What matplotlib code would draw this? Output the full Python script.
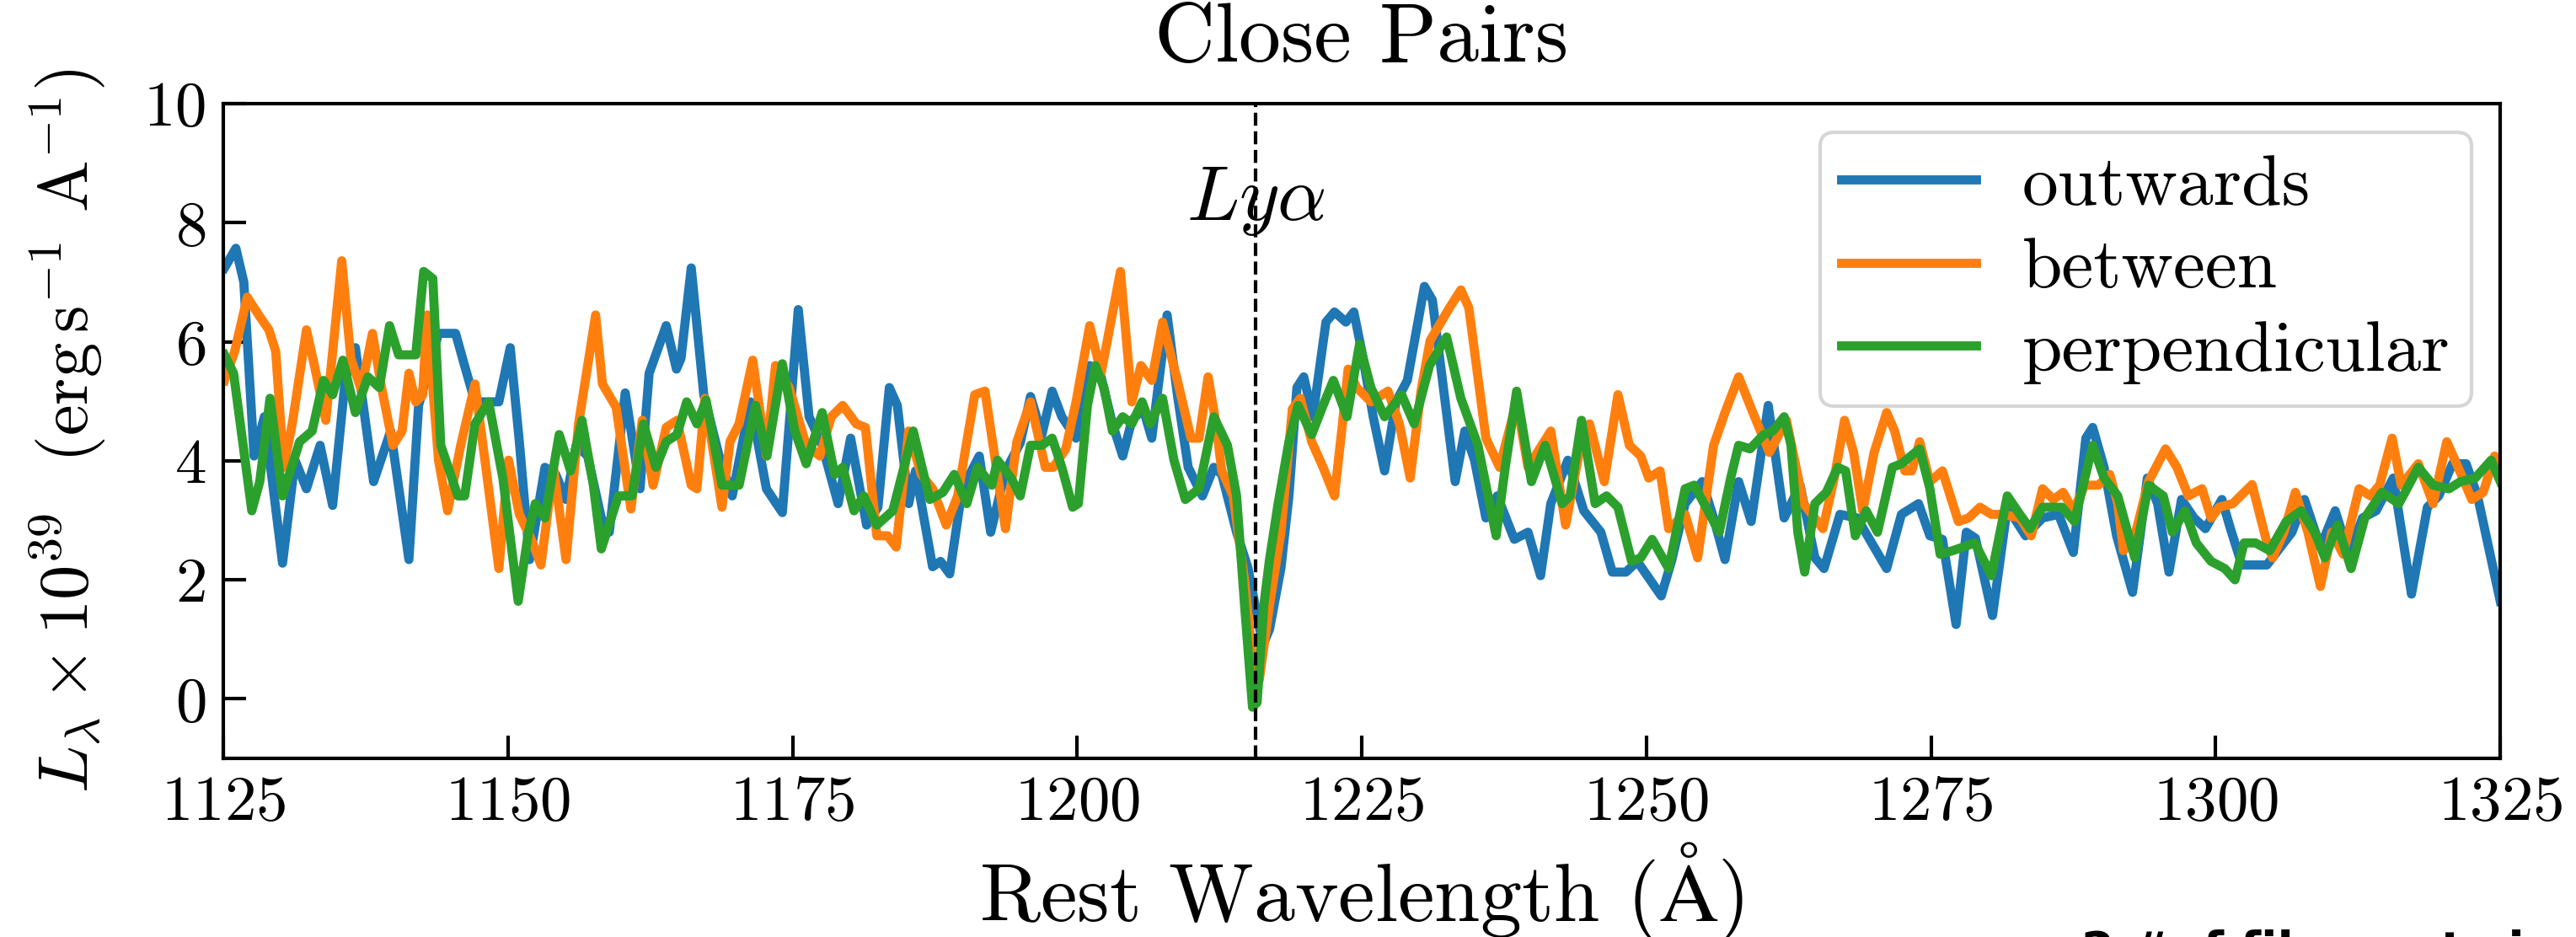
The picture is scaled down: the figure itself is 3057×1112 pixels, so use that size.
import matplotlib
matplotlib.use("Agg")
import matplotlib.pyplot as plt

plt.rcParams['font.family'] = ['cmr10', 'DejaVu Serif']
plt.rcParams['mathtext.fontset'] = 'cm'
plt.rcParams['axes.formatter.use_mathtext'] = True
plt.rcParams['axes.unicode_minus'] = True

# ---------------- data (rest wavelength in Angstrom, L_lambda x 1e39) ----------------
wave_out = [1125.1, 1126.1, 1126.8, 1127.7, 1128.6, 1130.2, 1131.3, 1132.3, 1133.5, 1134.6,
            1135.7, 1136.6, 1138.2, 1139.7, 1141.3, 1142.15, 1143.9, 1145.4, 1146.1, 1147.1,
            1149.2, 1150.2, 1151.0, 1151.9, 1153.25, 1154.2, 1155.1, 1156.0, 1157.0, 1158.2,
            1158.9, 1160.3, 1161.6, 1162.4, 1163.9, 1164.8, 1165.2, 1166.1, 1167.2, 1168.55,
            1169.7, 1171.3, 1172.7, 1174.1, 1175.5, 1176.45, 1177.6, 1179.0, 1180.1, 1181.5,
            1182.5, 1183.5, 1184.2, 1185.2, 1185.8, 1187.3, 1188.0, 1188.8, 1189.9, 1191.4,
            1192.4, 1193.7, 1195.0, 1195.9, 1196.9, 1197.8, 1198.65, 1199.9, 1201.1, 1202.1,
            1203.1, 1204.0, 1204.8, 1205.8, 1206.55, 1207.9, 1208.8, 1209.75, 1211.0, 1212.0,
            1212.7, 1214.0, 1215.0, 1215.6, 1216.3, 1216.9, 1217.9, 1218.6, 1219.3, 1219.9,
            1220.7, 1221.85, 1222.6, 1223.6, 1224.3, 1225.0, 1226.0, 1227.0, 1228.0, 1229.0,
            1230.5, 1231.2, 1233.2, 1234.05, 1234.9, 1235.9, 1236.9, 1238.4, 1239.6, 1240.7,
            1241.6, 1243.1, 1244.5, 1246.0, 1247.0, 1248.2, 1249.2, 1251.3, 1252.2, 1253.4,
            1254.9, 1255.9, 1256.9, 1258.1, 1259.2, 1260.7, 1262.1, 1263.5, 1264.8, 1265.6,
            1267.0, 1268.5, 1270.0, 1271.1, 1272.4, 1273.9, 1274.9, 1276.0, 1277.2, 1278.1,
            1278.9, 1280.4, 1281.7, 1283.3, 1284.8, 1286.2, 1287.5, 1288.6, 1289.2, 1290.2,
            1291.3, 1292.7, 1293.4, 1294.0, 1294.9, 1295.9, 1297.0, 1298.1, 1299.1, 1300.55,
            1301.3, 1302.3, 1303.8, 1304.5, 1305.7, 1306.7, 1307.8, 1309.2, 1310.5, 1311.7,
            1312.9, 1314.1, 1315.6, 1317.2, 1318.6, 1319.6, 1320.8, 1322.0, 1323.0, 1325.0]
flux_out = [7.24, 7.57, 7.0, 4.08, 4.74, 2.28, 4.01, 3.53, 4.26, 3.25,
            5.35, 5.9, 3.65, 4.5, 2.34, 4.93, 6.14, 6.14, 5.66, 4.99,
            4.99, 5.9, 4.32, 2.34, 3.89, 3.77, 3.35, 4.26, 4.08, 3.04,
            2.8, 5.14, 3.53, 5.47, 6.27, 5.54, 5.72, 7.24, 5.11, 4.08,
            3.41, 4.99, 3.53, 3.13, 6.54, 4.74, 4.26, 3.28, 4.38, 2.92,
            3.22, 5.23, 4.93, 3.28, 3.83, 2.22, 2.31, 2.1, 3.53, 4.08,
            2.8, 3.83, 4.3, 5.08, 4.44, 5.17, 4.74, 4.38, 5.6, 5.41,
            4.62, 4.08, 4.68, 4.87, 4.38, 6.45, 5.11, 3.89, 3.41, 3.89,
            3.77, 2.8, 2.2, 1.6, 0.9, 1.17, 2.2, 3.41, 5.23, 5.41,
            4.74, 6.33, 6.5, 6.33, 6.5, 5.84, 4.74, 3.83, 4.99, 5.35,
            6.93, 6.7, 3.65, 4.5, 4.01, 3.04, 3.41, 2.68, 2.8, 2.07,
            3.28, 4.01, 3.16, 2.8, 2.13, 2.13, 2.31, 1.73, 2.31, 3.28,
            3.65, 3.04, 2.34, 3.65, 2.98, 4.93, 3.04, 3.59, 2.37, 2.19,
            3.1, 3.04, 2.55, 2.19, 3.1, 3.28, 2.74, 2.68, 1.25, 2.8,
            2.7, 1.4, 3.22, 2.74, 3.04, 3.1, 2.46, 4.38, 4.56, 3.89,
            2.74, 1.79, 2.8, 3.71, 3.28, 2.13, 3.35, 3.04, 2.86, 3.35,
            2.86, 2.25, 2.25, 2.25, 2.55, 2.8, 3.35, 2.55, 3.16, 2.43,
            3.04, 3.16, 3.71, 1.76, 3.22, 3.41, 3.95, 3.95, 3.41, 1.64]

wave_btw = [1125.1, 1126.0, 1127.1, 1128.1, 1129.0, 1129.6, 1130.3, 1131.05, 1132.3, 1133.0,
            1134.0, 1135.4, 1136.2, 1137.1, 1138.1, 1138.9, 1139.9, 1140.7, 1141.3, 1141.9,
            1142.5, 1142.9, 1143.9, 1144.7, 1145.85, 1147.1, 1148.1, 1149.2, 1150.05, 1151.0,
            1152.0, 1152.9, 1154.0, 1155.1, 1156.2, 1157.7, 1158.3, 1159.5, 1160.8, 1161.8,
            1162.75, 1163.9, 1164.85, 1166.1, 1166.6, 1167.3, 1168.8, 1169.5, 1170.3, 1171.5,
            1172.7, 1173.5, 1174.7, 1176.2, 1177.4, 1178.4, 1179.4, 1180.6, 1181.4, 1182.4,
            1183.35, 1184.1, 1185.2, 1186.3, 1187.3, 1188.5, 1189.5, 1191.0, 1191.9, 1193.7,
            1194.7, 1195.9, 1197.2, 1197.9, 1199.0, 1199.9, 1201.1, 1202.1, 1203.8, 1204.8,
            1205.6, 1206.55, 1207.5, 1208.8, 1210.0, 1210.7, 1211.5, 1212.2, 1212.7, 1213.7,
            1214.7, 1215.4, 1216.0, 1216.9, 1217.9, 1218.9, 1219.6, 1220.6, 1221.6, 1222.6,
            1223.3, 1223.8, 1224.55, 1225.8, 1227.3, 1228.3, 1229.25, 1230.2, 1231.0, 1232.7,
            1233.7, 1234.4, 1235.9, 1237.1, 1238.6, 1239.6, 1241.6, 1242.9, 1244.1, 1245.0,
            1246.3, 1247.5, 1248.5, 1249.5, 1250.2, 1251.2, 1251.95, 1253.4, 1254.5, 1255.9,
            1256.9, 1258.1, 1259.35, 1260.8, 1262.3, 1263.8, 1265.5, 1266.5, 1267.4, 1268.2,
            1269.0, 1270.0, 1271.1, 1271.8, 1272.7, 1273.3, 1274.0, 1274.9, 1276.0, 1277.4,
            1278.3, 1279.3, 1280.3, 1281.3, 1282.8, 1283.8, 1284.8, 1285.75, 1286.6, 1287.5,
            1288.5, 1289.7, 1290.7, 1291.4, 1291.9, 1292.9, 1294.1, 1295.6, 1296.6, 1297.6,
            1298.8, 1299.6, 1300.3, 1301.5, 1303.2, 1304.4, 1305.0, 1306.0, 1307.0, 1308.1,
            1309.2, 1310.2, 1311.2, 1312.6, 1313.6, 1314.4, 1315.5, 1316.3, 1317.8, 1319.1,
            1320.3, 1321.3, 1322.5, 1323.5, 1324.5, 1325.0]
flux_btw = [5.35, 5.84, 6.75, 6.45, 6.2, 5.84, 3.89, 4.62, 6.2, 5.6,
            4.68, 7.36, 5.72, 5.2, 6.14, 5.23, 4.26, 4.5, 5.47, 4.99,
            5.1, 6.45, 4.01, 3.16, 4.26, 5.29, 3.83, 2.19, 4.01, 3.1,
            2.7, 2.25, 3.89, 2.34, 4.62, 6.45, 5.29, 4.9, 3.19, 4.68,
            3.59, 4.56, 4.68, 3.59, 3.53, 5.05, 3.22, 4.32, 4.62, 5.69,
            4.08, 5.6, 5.23, 4.26, 4.08, 4.74, 4.93, 4.62, 4.56, 2.74,
            2.74, 2.55, 4.5, 3.77, 3.53, 2.92, 3.41, 5.11, 5.17, 2.86,
            4.32, 4.99, 3.89, 3.89, 4.2, 4.99, 6.27, 5.47, 7.18, 4.99,
            5.6, 5.35, 6.33, 5.35, 4.38, 4.38, 5.41, 4.62, 3.83, 3.41,
            2.0, 0.67, 0.32, 1.58, 2.8, 4.87, 5.05, 4.32, 3.89, 3.41,
            4.62, 5.54, 5.23, 4.99, 5.17, 4.62, 3.71, 5.17, 6.02, 6.57,
            6.87, 6.57, 4.38, 3.89, 4.99, 3.89, 4.5, 2.92, 4.14, 4.62,
            3.65, 5.11, 4.26, 4.08, 3.71, 3.83, 2.86, 3.1, 2.37, 4.26,
            4.81, 5.41, 4.81, 4.14, 4.68, 3.28, 2.86, 3.71, 4.68, 4.14,
            3.16, 4.14, 4.81, 4.5, 3.83, 3.83, 4.32, 3.65, 3.83, 2.98,
            3.04, 3.22, 3.1, 3.1, 3.04, 2.74, 3.53, 3.35, 3.47, 3.16,
            3.59, 3.59, 3.77, 3.28, 2.49, 2.74, 3.65, 4.2, 3.89, 3.41,
            3.53, 3.04, 3.22, 3.28, 3.6, 2.7, 2.37, 2.8, 3.47, 2.8,
            1.89, 2.8, 2.43, 3.53, 3.41, 3.59, 4.38, 3.59, 3.95, 3.28,
            4.32, 3.89, 3.35, 3.47, 4.08, 3.83]

wave_perp = [1125.1, 1125.9, 1127.5, 1128.2, 1129.1, 1130.2, 1131.7, 1132.8, 1133.8, 1134.6,
             1135.5, 1136.6, 1137.7, 1138.7, 1139.6, 1140.4, 1141.9, 1142.6, 1143.4, 1144.1,
             1145.6, 1146.2, 1147.1, 1148.3, 1149.55, 1150.9, 1151.8, 1152.4, 1153.25, 1154.5,
             1155.5, 1156.5, 1157.5, 1158.2, 1159.7, 1160.9, 1161.9, 1163.0, 1163.9, 1164.85,
             1165.7, 1166.6, 1167.4, 1168.8, 1170.3, 1171.75, 1172.75, 1174.1, 1175.2, 1176.2,
             1177.6, 1178.7, 1179.4, 1180.4, 1181.25, 1182.4, 1183.8, 1185.6, 1187.05, 1188.2,
             1189.2, 1190.3, 1191.25, 1192.5, 1193.0, 1194.2, 1195.0, 1195.9, 1196.9, 1197.8,
             1198.65, 1199.6, 1200.1, 1200.9, 1201.6, 1202.35, 1203.1, 1204.0, 1204.8, 1205.7,
             1206.4, 1207.5, 1208.5, 1209.5, 1210.7, 1212.0, 1213.2, 1214.0, 1214.7, 1215.4,
             1215.8, 1216.4, 1216.9, 1217.65, 1218.6, 1219.4, 1220.6, 1221.6, 1222.5, 1223.7,
             1224.8, 1225.8, 1227.0, 1228.5, 1229.6, 1230.95, 1232.45, 1233.7, 1235.2, 1236.8,
             1237.6, 1238.6, 1239.9, 1241.1, 1242.6, 1243.3, 1244.3, 1245.5, 1246.5, 1247.5,
             1248.7, 1249.5, 1250.5, 1251.95, 1253.4, 1254.2, 1256.4, 1257.4, 1258.1, 1259.1,
             1260.3, 1261.1, 1262.1, 1262.7, 1263.3, 1263.9, 1264.8, 1265.8, 1266.8, 1267.5,
             1268.35, 1269.3, 1270.3, 1271.6, 1272.4, 1274.0, 1274.9, 1275.8, 1276.9, 1278.85,
             1280.3, 1281.7, 1282.8, 1283.7, 1284.8, 1286.5, 1287.6, 1289.2, 1290.2, 1291.4,
             1292.9, 1294.1, 1295.4, 1296.2, 1297.3, 1298.3, 1299.6, 1300.8, 1301.7, 1302.5,
             1303.5, 1304.75, 1306.2, 1307.5, 1308.7, 1309.6, 1310.7, 1311.9, 1313.1, 1314.6,
             1316.1, 1317.8, 1319.1, 1320.5, 1321.5, 1322.8, 1324.2, 1325.0]
flux_perp = [5.78, 5.47, 3.16, 3.65, 5.05, 3.41, 4.32, 4.5, 5.35, 5.11,
             5.69, 4.81, 5.41, 5.23, 6.27, 5.78, 5.78, 7.18, 7.06, 4.26,
             3.41, 3.41, 4.62, 4.99, 3.71, 1.64, 2.8, 3.28, 3.04, 4.44,
             3.83, 4.68, 3.59, 2.52, 3.41, 3.41, 4.62, 3.89, 4.32, 4.44,
             4.99, 4.62, 5.02, 3.59, 3.59, 4.93, 4.08, 5.63, 4.5, 3.95,
             4.81, 3.77, 3.89, 3.16, 3.41, 2.92, 3.16, 4.5, 3.35, 3.47,
             3.77, 3.28, 3.89, 3.59, 4.01, 3.71, 3.41, 4.26, 4.26, 4.38,
             3.89, 3.22, 3.28, 4.93, 5.6, 5.23, 4.5, 4.74, 4.62, 4.99,
             4.62, 5.05, 4.01, 3.35, 3.53, 4.74, 4.26, 3.41, 1.58, -0.14,
             -0.06, 1.58, 2.35, 3.28, 4.32, 4.93, 4.44, 4.93, 5.35, 4.74,
             5.96, 5.23, 4.74, 5.11, 4.62, 5.6, 6.08, 5.05, 4.26, 2.74,
             3.89, 5.17, 3.65, 4.26, 3.28, 3.41, 4.68, 3.28, 3.41, 3.22,
             2.31, 2.37, 2.68, 2.19, 3.53, 3.59, 2.8, 3.71, 4.26, 4.2,
             4.44, 4.5, 4.74, 4.26, 2.8, 2.13, 3.28, 3.47, 3.89, 3.83,
             2.74, 3.16, 2.8, 3.89, 3.95, 4.2, 3.53, 2.43, 2.49, 2.62,
             2.07, 3.41, 3.1, 2.86, 3.22, 3.22, 2.98, 4.26, 3.71, 3.41,
             2.37, 3.59, 3.41, 2.8, 3.16, 2.62, 2.31, 2.19, 2.0, 2.62,
             2.62, 2.49, 2.98, 3.16, 2.8, 2.37, 2.92, 2.19, 3.04, 3.47,
             3.28, 3.89, 3.59, 3.53, 3.65, 3.71, 4.01, 3.65]

series_labels = ['outwards', 'between', 'perpendicular']
lya_wave = 1215.67
x_ticks = [1125, 1150, 1175, 1200, 1225, 1250, 1275, 1300, 1325]
y_ticks = [0, 2, 4, 6, 8, 10]

# ---------------- figure ----------------
fig = plt.figure(figsize=(3057 / 300, 1112 / 300), dpi=300)
ax = fig.add_axes([0.0867, 0.1906, 0.9706 - 0.0867, 0.8894 - 0.1906])

colors = ['#1f77b4', '#ff7f0e', '#2ca02c']
for w, f, lab, c in zip([wave_out, wave_btw, wave_perp],
                        [flux_out, flux_btw, flux_perp], series_labels, colors):
    ax.plot(w, f, color=c, lw=2.6, label=lab, solid_joinstyle='round')

ax.axvline(lya_wave, color='black', ls='--', lw=1.0)
ax.text(lya_wave, 8.05, r'$Ly\alpha$', ha='center', va='baseline', fontsize=22)

ax.set_xlim(1125, 1325)
ax.set_ylim(-1, 10)
ax.set_xticks(x_ticks)
ax.set_yticks(y_ticks)
ax.tick_params(direction='in', length=6.5, width=1.0, labelsize=18, pad=5)
for s in ax.spines.values():
    s.set_linewidth(1.0)

ax.set_title('Close Pairs', fontsize=24, pad=12)
ax.set_xlabel(r'Rest Wavelength ($\mathrm{\AA}$)', fontsize=23.5, labelpad=2)
ax.set_ylabel(r'$L_{\lambda}\times10^{39}$  (erg$\,$s$^{-1}$ A$^{-1}$)', fontsize=19.8, labelpad=10)

ax.legend(loc='upper right', fontsize=20.5, handlelength=1.87, handletextpad=0.64,
          borderpad=0.3, labelspacing=0.27, borderaxespad=0.4, frameon=True)

# caption fragment of the next panel, cut by the lower edge as in the reference
fig.text(0.808, -0.030, '2 #of filaments in a bin', fontsize=13.5, fontweight='bold',
         family='DejaVu Sans', ha='left', va='baseline')

fig.savefig('out.png', dpi=300)
